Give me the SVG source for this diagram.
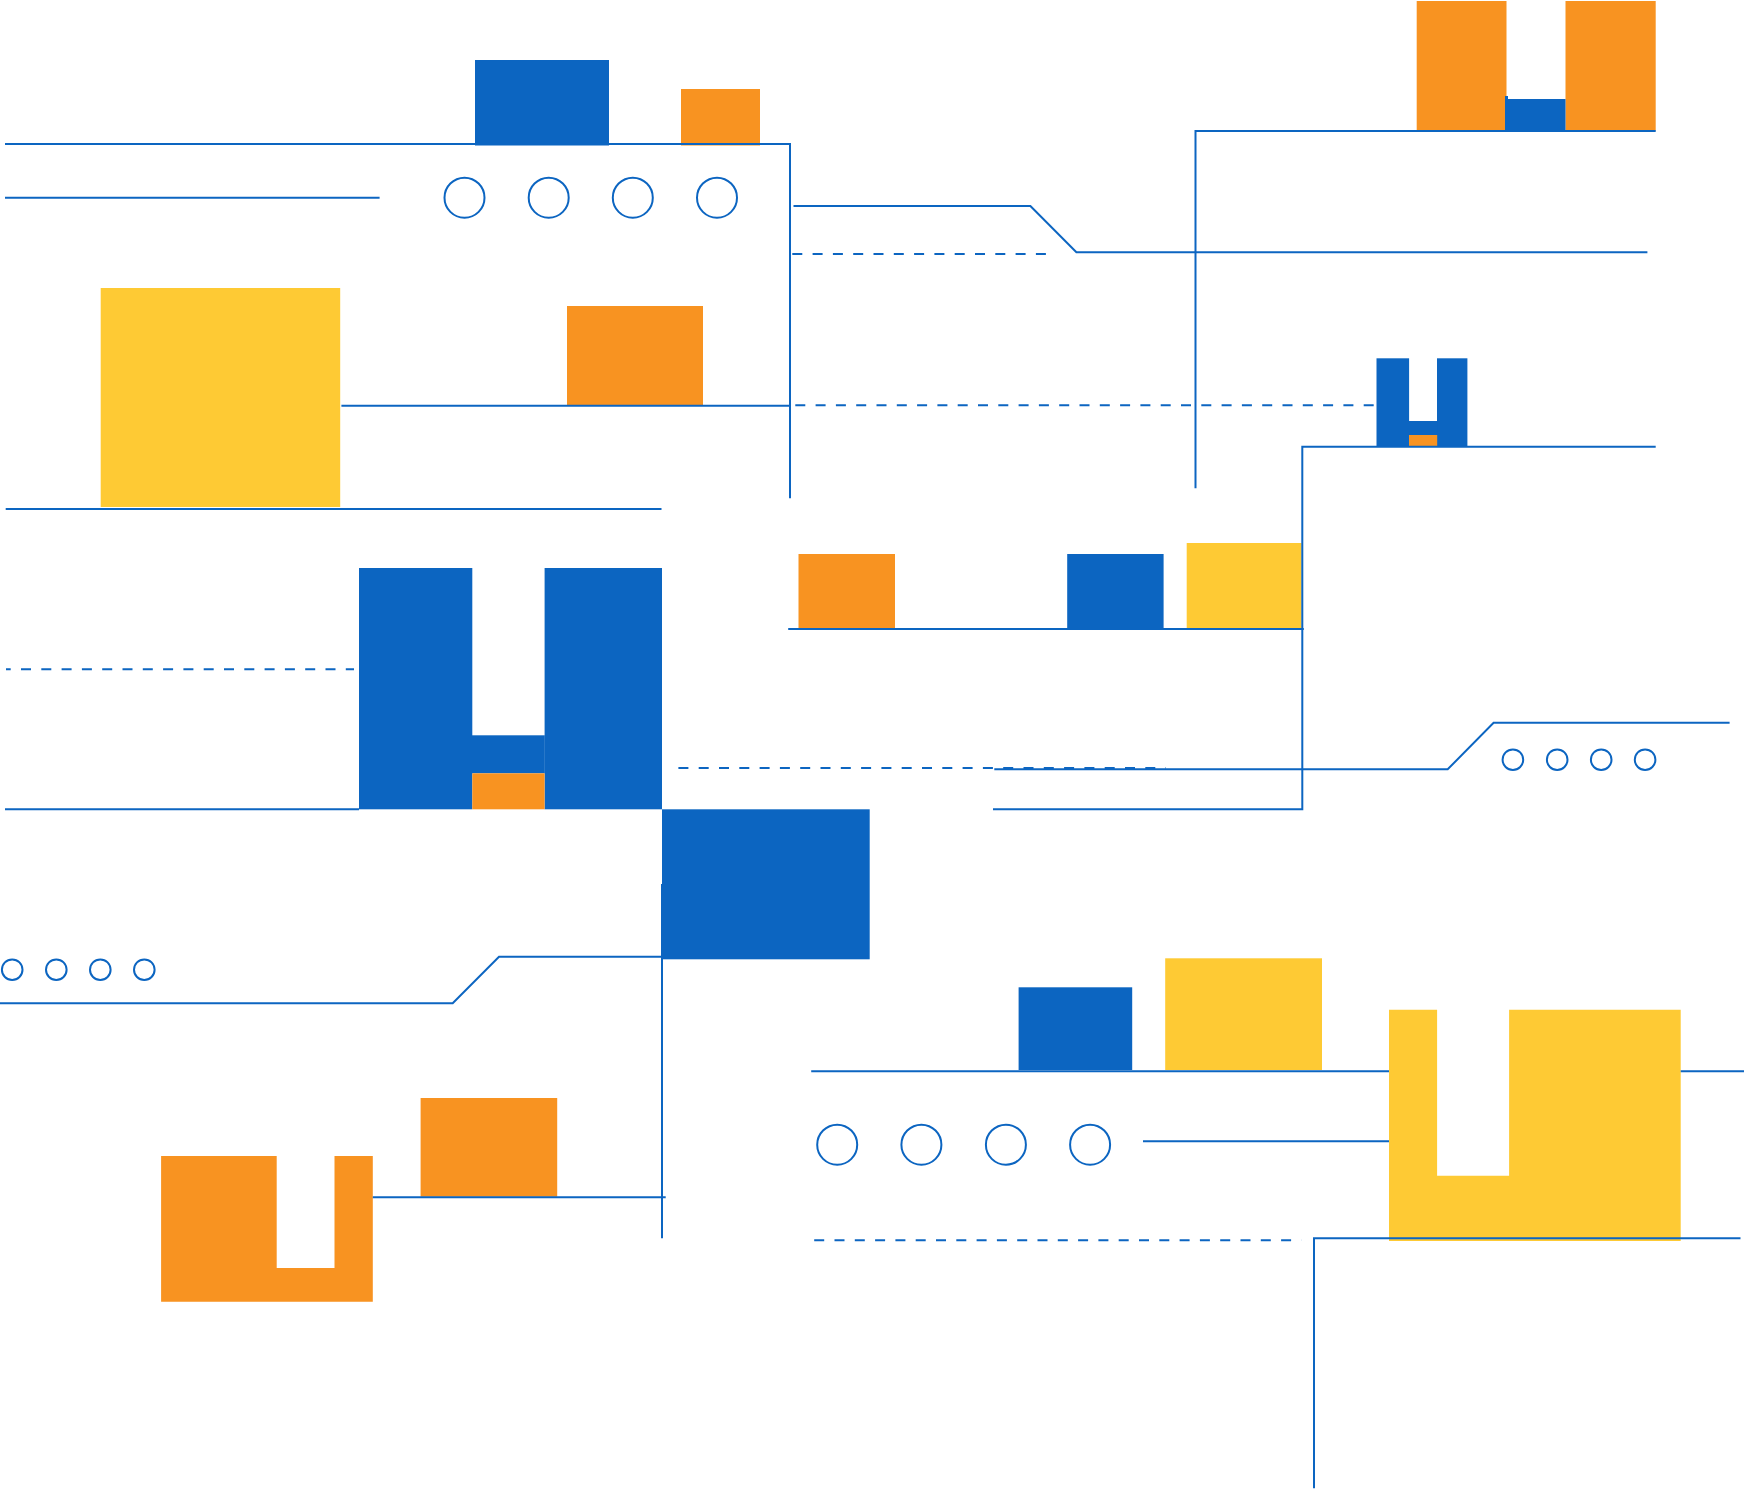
<svg xmlns="http://www.w3.org/2000/svg" width="1744" height="1489" viewBox="0 0 1744 1489">
<style>
.b{fill:#0C65C1}
.o{fill:#F89321}
.y{fill:#FECA34}
.c{fill:none;stroke:#0C65C1;stroke-width:2}
.ln{fill:none;stroke:#0C65C1;stroke-width:2}
.d{fill:none;stroke:#0C65C1;stroke-width:2;stroke-dasharray:10 10.3}
</style>
<rect width="1744" height="1489" fill="#FFFFFF"/>
<g id="nodes">
<g id="n1"><rect class="b" x="475" y="60" width="134" height="85.5"/></g>
<g id="n2"><rect class="o" x="681" y="89" width="79" height="56.5"/></g>
<g id="n3"><circle class="c" cx="464.5" cy="197.7" r="20"/><circle class="c" cx="548.7" cy="197.7" r="20"/><circle class="c" cx="632.8" cy="197.7" r="20"/><circle class="c" cx="717" cy="197.7" r="20"/></g>
<g id="n4"><rect class="y" x="100.7" y="288" width="239.5" height="219"/></g>
<g id="n5"><rect class="o" x="567" y="306" width="136" height="99"/></g>
<g id="n6"><rect class="o" x="1416.7" y="1" width="89.8" height="129.7"/><rect class="o" x="1565.5" y="1" width="90.2" height="129.7"/><rect class="b" x="1505" y="99" width="60.5" height="31.7"/><rect class="b" x="1505" y="96" width="3" height="4"/></g>
<g id="n7"><rect class="b" x="1376.5" y="358.3" width="32.6" height="88.4"/><rect class="b" x="1437" y="358.3" width="30.4" height="88.4"/><rect class="b" x="1409" y="421" width="28.2" height="14"/><rect class="o" x="1409" y="435" width="28.2" height="11.7"/></g>
<g id="n8"><rect class="b" x="359" y="568" width="113.3" height="241.3"/><rect class="b" x="544.6" y="568" width="117.4" height="241.3"/><rect class="b" x="472" y="735.3" width="72.8" height="38"/><rect class="o" x="472.3" y="773.3" width="72.3" height="36"/></g>
<g id="n9"><rect class="b" x="662" y="809.3" width="207.7" height="150"/></g>
<g id="n10"><rect class="o" x="798.5" y="554" width="96.5" height="74.3"/></g>
<g id="n11"><rect class="b" x="1067.2" y="554" width="96.4" height="74.3"/></g>
<g id="n12"><rect class="y" x="1186.7" y="543" width="114.8" height="85.3"/></g>
<g id="n13"><circle class="c" cx="1512.9" cy="759.7" r="10.3"/><circle class="c" cx="1557.2" cy="759.7" r="10.3"/><circle class="c" cx="1601.2" cy="759.7" r="10.3"/><circle class="c" cx="1645.1" cy="759.7" r="10.3"/></g>
<g id="n14"><circle class="c" cx="12.2" cy="969.7" r="10.3"/><circle class="c" cx="56.3" cy="969.7" r="10.3"/><circle class="c" cx="100.3" cy="969.7" r="10.3"/><circle class="c" cx="144.3" cy="969.7" r="10.3"/></g>
<g id="n15"><path class="o" d="M161.1,1156 H276.7 V1268 H334.5 V1156 H372.8 V1301.7 H161.1 Z"/></g>
<g id="n16"><rect class="o" x="420.6" y="1098" width="136.6" height="98.7"/></g>
<g id="n17"><rect class="b" x="1018.6" y="987.3" width="113.6" height="82.7"/></g>
<g id="n18"><rect class="y" x="1165.2" y="958.3" width="156.8" height="111.7"/></g>
<g id="n19"><circle class="c" cx="837.2" cy="1144.7" r="20"/><circle class="c" cx="921.4" cy="1144.7" r="20"/><circle class="c" cx="1005.9" cy="1144.7" r="20"/><circle class="c" cx="1090.1" cy="1144.7" r="20"/></g>
<g id="n20"><path class="y" d="M1389,1009.7 H1437.1 V1175.7 H1509.1 V1009.7 H1680.7 V1241 H1389 Z"/></g>
</g>
<g id="connectors">
<path class="ln" d="M5,144 H790 V498.3"/>
<path class="ln" d="M5,197.7 H379.6"/>
<path class="ln" d="M793.5,206 H1030.4 L1076.4,252.3 H1647.4"/>
<path class="d" d="M790,254 H1051" stroke-dashoffset="18"/>
<path class="ln" d="M341.4,405.7 H790"/>
<path class="d" d="M790,405.3 H1376.5" stroke-dashoffset="15"/>
<path class="ln" d="M1195.5,488.3 V131 H1655.7"/>
<path class="ln" d="M993,809.3 H1302.3 V446.7 H1655.7"/>
<path class="ln" d="M5.7,509 H661.5"/>
<path class="d" d="M6,669.3 H354" stroke-dashoffset="5.3"/>
<path class="ln" d="M5,809.3 H359"/>
<path class="ln" d="M788.2,629 H1303.8"/>
<path class="d" d="M678.4,768 H1166"/>
<path class="ln" d="M994.3,769.3 H1447.7 L1493.6,722.7 H1729.6"/>
<path class="ln" d="M0,1003.3 H452.7 L499,956.7 H662"/>
<path class="ln" d="M662,884 V1238.3"/>
<path class="ln" d="M372.8,1197.3 H665.7"/>
<path class="ln" d="M811.2,1071.3 H1389"/>
<path class="ln" d="M1680.7,1071.3 H1744"/>
<path class="ln" d="M1143,1141.3 H1389"/>
<path class="d" d="M814.2,1240.3 H1301.5"/>
<path class="ln" d="M1314,1488.3 V1238.3 H1740.5"/>
</g>
</svg>
